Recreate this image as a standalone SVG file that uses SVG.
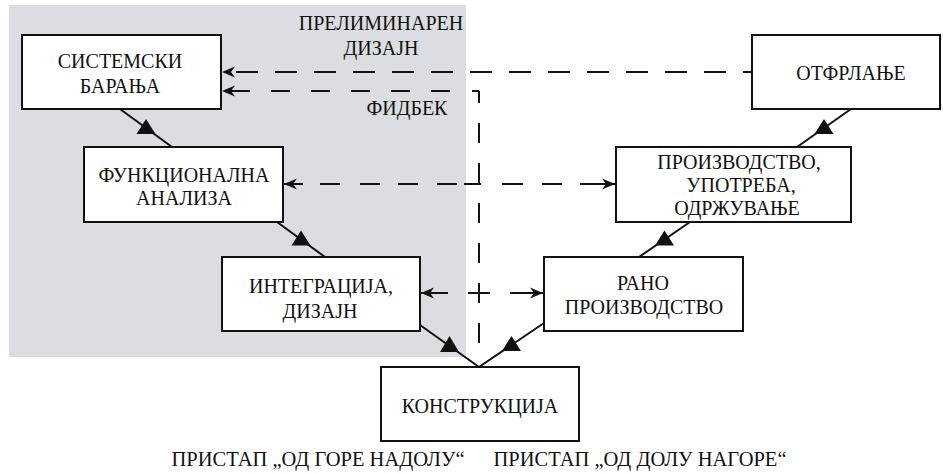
<svg xmlns="http://www.w3.org/2000/svg" width="943" height="473" viewBox="0 0 943 473">
<style>
.box{fill:#fff;stroke:#111;stroke-width:2}
.t{font-family:"Liberation Serif","Times New Roman","DejaVu Serif",serif;font-size:20px;fill:#111;text-anchor:middle}
.b{font-size:20.5px}
.ln{stroke:#111;stroke-width:2;fill:none}
.dl{stroke:#111;stroke-width:2;fill:none}
.tri{fill:#111}
</style>
<defs>
<marker id="ah" markerUnits="userSpaceOnUse" viewBox="0 0 14 12" markerWidth="14" markerHeight="12" refX="13" refY="6" orient="auto-start-reverse">
<path d="M13,6 L0,0.5 L4,6 L0,11.5 Z" fill="#111"/>
</marker>
</defs>
<rect x="9" y="5" width="457" height="352" fill="#dcdde0"/>
<g id="labels">
<text class="t" x="381" y="30">ПРЕЛИМИНАРЕН</text>
<text class="t" x="381" y="55">ДИЗАЈН</text>
<text class="t" x="407" y="115">ФИДБЕК</text>
<text class="t b" x="318" y="466">ПРИСТАП „ОД ГОРЕ НАДОЛУ“</text>
<text class="t b" x="640" y="466">ПРИСТАП „ОД ДОЛУ НАГОРЕ“</text>
</g>
<g id="connectors">
<path class="ln" d="M120 109 L172 147"/>
<polygon class="tri" points="146,119 136.5,134 155.5,134"/>
<path class="ln" d="M277 222 L325 257"/>
<polygon class="tri" points="301,230.5 291.5,245.5 310.5,245.5"/>
<path class="ln" d="M420 325 L479 367"/>
<polygon class="tri" points="449.5,336 440,352 459,352"/>
<path class="ln" d="M544 323 L479 367"/>
<polygon class="tri" points="511.5,336 502,351 521,351"/>
<path class="ln" d="M690 222 L639 257"/>
<polygon class="tri" points="664.5,230.5 655,245.5 674,245.5"/>
<path class="ln" d="M851 109 L797 147"/>
<polygon class="tri" points="824,119 814.5,134 833.5,134"/>
<path class="dl" d="M752 72 H222" stroke-dasharray="22 17" stroke-dashoffset="13" marker-end="url(#ah)"/>
<path class="dl" d="M479 91 H472"/>
<path class="dl" d="M450 91 H222" stroke-dasharray="19 21" marker-end="url(#ah)"/>
<path class="dl" d="M479 91 V345" stroke-dasharray="20 20" stroke-dashoffset="8"/>
<path class="dl" d="M284 184 H303 M320 184 H340 M360 184 H380 M398 184 H418 M437 184 H457 M464 184 H481 M502 184 H523 M542 184 H562 M580 184 H615" marker-start="url(#ah)" marker-end="url(#ah)"/>
<path class="dl" d="M421 293 H448 M468 293 H490 M510 293 H543" marker-start="url(#ah)" marker-end="url(#ah)"/>
</g>
<g id="sistemski">
<rect class="box" x="22" y="35" width="199" height="74"/>
<text class="t" x="120" y="68">СИСТЕМСКИ</text>
<text class="t" x="120" y="93">БАРАЊА</text>
</g>
<g id="funkcionalna">
<rect class="box" x="84" y="147" width="199" height="75"/>
<text class="t" x="184" y="182">ФУНКЦИОНАЛНА</text>
<text class="t" x="184" y="205">АНАЛИЗА</text>
</g>
<g id="integracija">
<rect class="box" x="222" y="257" width="198" height="74"/>
<text class="t" x="321" y="293">ИНТЕГРАЦИЈА,</text>
<text class="t" x="320" y="318">ДИЗАЈН</text>
</g>
<g id="konstrukcija">
<rect class="box" x="381" y="367" width="198" height="74"/>
<text class="t" x="480" y="413">КОНСТРУКЦИЈА</text>
</g>
<g id="rano">
<rect class="box" x="544" y="257" width="199" height="74"/>
<text class="t" x="643" y="290">РАНО</text>
<text class="t" x="644" y="314">ПРОИЗВОДСТВО</text>
</g>
<g id="proizvodstvo">
<rect class="box" x="616" y="147" width="235" height="75"/>
<text class="t" x="739" y="169">ПРОИЗВОДСТВО,</text>
<text class="t" x="741" y="192">УПОТРЕБА,</text>
<text class="t" x="737" y="215">ОДРЖУВАЊЕ</text>
</g>
<g id="otfrlanje">
<rect class="box" x="752" y="35" width="188" height="74"/>
<text class="t" x="851" y="80">ОТФРЛАЊЕ</text>
</g>
</svg>
